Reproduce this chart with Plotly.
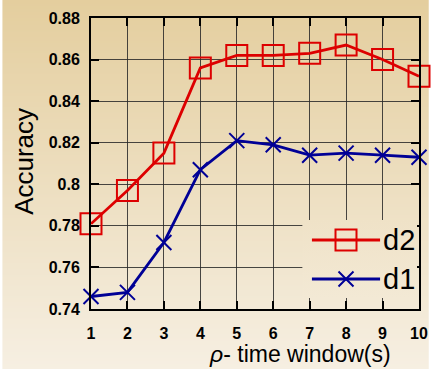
import base64
import struct
import zlib
import plotly.graph_objects as go

# ---------------- data ----------------
x_vals = [1, 2, 3, 4, 5, 6, 7, 8, 9, 10]
d2_vals = [0.781, 0.797, 0.815, 0.856, 0.862, 0.862, 0.863, 0.867, 0.860, 0.852]
d1_vals = [0.746, 0.748, 0.772, 0.807, 0.821, 0.819, 0.814, 0.815, 0.814, 0.813]
y_tick_vals = [0.74, 0.76, 0.78, 0.80, 0.82, 0.84, 0.86, 0.88]
y_tick_text = ["0.74", "0.76", "0.78", "0.8", "0.82", "0.84", "0.86", "0.88"]
x_tick_text = ["1", "2", "3", "4", "5", "6", "7", "8", "9", "10"]
series_names = ["d2", "d1"]
x_title = "<i>ρ</i>- time window(s)"
y_title = "Accuracy"

# ---------------- style ----------------
W, H = 438, 369
L, R, T, B = 91, 10, 18, 60
PW, PH = W - L - R, H - T - B
RED = "#dd0000"
BLUE = "#000096"
TOP_C = (228, 206, 158)
BOT_C = (246, 239, 226)
FONT = "Arial"


def color_at(py):
    t = py / (H - 1)
    return "rgb(%d,%d,%d)" % tuple(round(TOP_C[k] + (BOT_C[k] - TOP_C[k]) * t) for k in range(3))


def png_gradient(top, bottom, h=256):
    rows = b""
    for i in range(h):
        t = i / (h - 1)
        rows += b"\x00" + bytes(round(top[k] + (bottom[k] - top[k]) * t) for k in range(3))

    def chunk(tag, data):
        return (struct.pack(">I", len(data)) + tag + data
                + struct.pack(">I", zlib.crc32(tag + data) & 0xFFFFFFFF))

    png = (b"\x89PNG\r\n\x1a\n"
           + chunk(b"IHDR", struct.pack(">IIBBBBB", 1, h, 8, 2, 0, 0, 0))
           + chunk(b"IDAT", zlib.compress(rows))
           + chunk(b"IEND", b""))
    return "data:image/png;base64," + base64.b64encode(png).decode()


fig = go.Figure()

fig.add_trace(go.Scatter(
    x=x_vals, y=d2_vals, mode="lines+markers", name=series_names[0],
    line=dict(color=RED, width=2.8),
    marker=dict(symbol="square-open", size=21, color=RED, line=dict(width=2, color=RED)),
    cliponaxis=False, showlegend=False))
fig.add_trace(go.Scatter(
    x=x_vals, y=d1_vals, mode="lines+markers", name=series_names[1],
    line=dict(color=BLUE, width=2.8),
    marker=dict(symbol="x-thin-open", size=15, color=BLUE, line=dict(width=2, color=BLUE)),
    cliponaxis=False, showlegend=False))

# ---------------- custom legend (own hidden sub-axes) ----------------
lx0, lx1, ly0, ly1 = 308, 426, 220, 298
fig.add_trace(go.Scatter(
    x=[0, 1, 1, 0, 0], y=[0, 0, 1, 1, 0], xaxis="x2", yaxis="y2",
    mode="lines", fill="toself", line=dict(width=0),
    fillgradient=dict(type="vertical", colorscale=[[0, color_at(ly1)], [1, color_at(ly0)]]),
    hoverinfo="skip", showlegend=False))

lw = lx1 - lx0
lh = ly1 - ly0
seg_a, seg_b, seg_m = (318 - lx0) / lw, (388 - lx0) / lw, (353 - lx0) / lw
leg_rows = [(ly1 - 240) / lh, (ly1 - 279) / lh]
leg_styles = [
    (RED, dict(symbol="square-open", size=21, color=RED, line=dict(width=2, color=RED))),
    (BLUE, dict(symbol="x-thin-open", size=15, color=BLUE, line=dict(width=2, color=BLUE))),
]
for name, yy, (col, mk) in zip(series_names, leg_rows, leg_styles):
    fig.add_trace(go.Scatter(x=[seg_a, seg_b], y=[yy, yy], xaxis="x2", yaxis="y2",
                             mode="lines", line=dict(color=col, width=3),
                             hoverinfo="skip", showlegend=False, cliponaxis=False))
    fig.add_trace(go.Scatter(x=[seg_m], y=[yy], xaxis="x2", yaxis="y2",
                             mode="markers", marker=mk,
                             hoverinfo="skip", showlegend=False, cliponaxis=False))
    fig.add_annotation(x=(389 - lx0) / lw, y=yy, xref="x2", yref="y2", text=name,
                       showarrow=False, xanchor="left", yanchor="middle",
                       font=dict(family=FONT, size=29, color="black"))

axis_common = dict(
    showline=True, linecolor="black", linewidth=2, mirror="ticks",
    ticks="inside", ticklen=8, tickwidth=2, tickcolor="black",
    showgrid=True, gridcolor="rgba(40,40,40,0.85)", gridwidth=1,
    zeroline=False,
    tickfont=dict(family=FONT, size=16, color="black", weight="bold"),
)

fig.update_layout(
    width=W, height=H,
    margin=dict(l=L, r=R, t=T, b=B, pad=0),
    paper_bgcolor="rgba(0,0,0,0)", plot_bgcolor="rgba(0,0,0,0)",
    xaxis=dict(range=[1, 10], tickvals=x_vals, ticktext=x_tick_text,
               ticklabelstandoff=9, **axis_common),
    yaxis=dict(range=[0.74, 0.88], tickvals=y_tick_vals, ticktext=y_tick_text,
               ticklabelstandoff=6, **axis_common),
    xaxis2=dict(domain=[(lx0 - L) / PW, (lx1 - L) / PW], range=[0, 1], visible=False,
                anchor="y2", fixedrange=True),
    yaxis2=dict(domain=[(H - B - ly1) / PH, (H - B - ly0) / PH], range=[0, 1], visible=False,
                anchor="x2", fixedrange=True),
    images=[dict(source=png_gradient(TOP_C, BOT_C), xref="paper", yref="paper",
                 x=-L / PW, y=1 + T / PH, sizex=W / PW, sizey=H / PH,
                 xanchor="left", yanchor="top", sizing="stretch", layer="below")],
    showlegend=False,
)

fig.add_annotation(x=(306 - L) / PW, y=-(354 - (H - B)) / PH, xref="paper", yref="paper",
                   text=x_title, showarrow=False, xanchor="center", yanchor="middle",
                   font=dict(family=FONT, size=23, color="black"))
fig.add_annotation(x=(21.5 - L) / PW, y=(H - B - 161.5) / PH, xref="paper", yref="paper",
                   text=y_title, textangle=-90, showarrow=False,
                   xanchor="center", yanchor="middle",
                   font=dict(family=FONT, size=26, color="black"))

fig.write_html("out.html")
